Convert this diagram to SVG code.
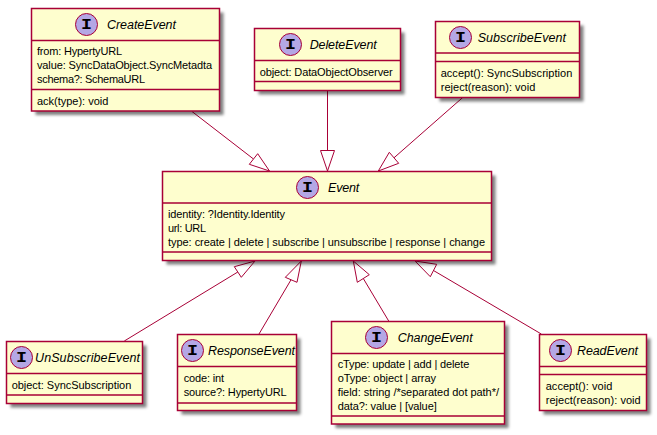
<svg xmlns="http://www.w3.org/2000/svg" width="657" height="435" viewBox="0 0 657 435">
<style>
text{font-family:"Liberation Sans",Arial,sans-serif;fill:#000}
.n{font-size:12.500px;font-style:italic}
.m{font-size:11px}
.b{fill:#FEFECE;stroke:#A80036;stroke-width:1.5}
.l{fill:none;stroke:#A80036;stroke-width:1.5}
.c{fill:#B4A7E5;stroke:#A80036;stroke-width:1}
.i{font-family:"Liberation Mono",monospace;font-size:14px;font-weight:bold;text-anchor:middle}
.s{fill:#000;opacity:.5;filter:url(#sh)}
#connectors line{stroke:#A80036;stroke-width:1}
#connectors polygon{fill:#fff;stroke:#A80036;stroke-width:1}
</style>
<defs><filter id="sh" x="-10%" y="-10%" width="120%" height="120%"><feGaussianBlur stdDeviation="1.5"/></filter></defs>
<g id="connectors">
<line x1="192" y1="111.500" x2="253.500" y2="159"/><polygon points="269.500,171 249.300,164.300 257.700,153.700"/>
<line x1="327.500" y1="90.500" x2="327.500" y2="150.500"/><polygon points="327.500,171 320.500,150.500 334.500,150.500"/>
<line x1="462.700" y1="97.500" x2="394" y2="157.800"/><polygon points="378.300,171 389.300,152.300 398.700,163.300"/>
<line x1="124.300" y1="341" x2="237.800" y2="272"/><polygon points="255,261 234.300,266.700 241.300,277.300"/>
<line x1="259" y1="334" x2="291" y2="279.800"/><polygon points="301.300,261 285.300,277.300 297,282.300"/>
<line x1="388.700" y1="321" x2="363.300" y2="278.500"/><polygon points="353.300,261 357.300,282.300 369.300,274.700"/>
<line x1="541.300" y1="334" x2="433.500" y2="270.500"/><polygon points="415,261 430.300,276.700 436.700,264.300"/>
</g>
<g id="CreateEvent">
<rect class="s" x="35.500" y="12.500" width="188" height="102.500"/>
<rect class="b" x="31.500" y="8.500" width="188" height="102.500"/>
<path class="l" d="M31.500 40.500H219.500M31.500 89.500H219.500"/>
<circle class="c" cx="86.500" cy="24.500" r="11"/><text class="i" x="86.500" y="28.500" textLength="11" lengthAdjust="spacingAndGlyphs">I</text>
<text class="n" x="107" y="29" textLength="69">CreateEvent</text>
<text class="m" x="37" y="55" textLength="85">from: HypertyURL</text>
<text class="m" x="37" y="69" textLength="175">value: SyncDataObject.SyncMetadta</text>
<text class="m" x="37" y="83" textLength="108">schema?: SchemaURL</text>
<text class="m" x="37" y="105" textLength="71.300">ack(type): void</text>
</g>
<g id="DeleteEvent">
<rect class="s" x="258.500" y="32.500" width="146" height="62"/>
<rect class="b" x="254.500" y="28.500" width="146" height="62"/>
<path class="l" d="M254.500 60.500H400.500M254.500 81.500H400.500"/>
<circle class="c" cx="290.500" cy="44.500" r="11"/><text class="i" x="290.500" y="48.500" textLength="11" lengthAdjust="spacingAndGlyphs">I</text>
<text class="n" x="309.700" y="49" textLength="67">DeleteEvent</text>
<text class="m" x="259.700" y="76" textLength="133">object: DataObjectObserver</text>
</g>
<g id="SubscribeEvent">
<rect class="s" x="439.500" y="25.500" width="144" height="76"/>
<rect class="b" x="435.500" y="21.500" width="144" height="76"/>
<path class="l" d="M435.500 53H579.500M435.500 61.500H579.500"/>
<circle class="c" cx="460.500" cy="37.500" r="11"/><text class="i" x="460.500" y="41.500" textLength="11" lengthAdjust="spacingAndGlyphs">I</text>
<text class="n" x="477.700" y="42" textLength="88.300">SubscribeEvent</text>
<text class="m" x="440.700" y="77" textLength="131.600">accept(): SyncSubscription</text>
<text class="m" x="440.700" y="91" textLength="94.600">reject(reason): void</text>
</g>
<g id="Event">
<rect class="s" x="166.500" y="175.500" width="329" height="89"/>
<rect class="b" x="162.500" y="171.500" width="329" height="89"/>
<path class="l" d="M162.500 203H491.500M162.500 252H491.500"/>
<circle class="c" cx="307.500" cy="187.500" r="11"/><text class="i" x="307.500" y="191.500" textLength="11" lengthAdjust="spacingAndGlyphs">I</text>
<text class="n" x="328" y="192" textLength="31.300">Event</text>
<text class="m" x="168" y="218" textLength="117">identity: ?Identity.Identity</text>
<text class="m" x="168" y="232" textLength="38">url: URL</text>
<text class="m" x="168" y="246" textLength="317">type: create | delete | subscribe | unsubscribe | response | change</text>
</g>
<g id="UnSubscribeEvent">
<rect class="s" x="10.500" y="345.500" width="136" height="62"/>
<rect class="b" x="6.500" y="341.500" width="136" height="62"/>
<path class="l" d="M6.500 373.500H142.500M6.500 395H142.500"/>
<circle class="c" cx="21.500" cy="357.500" r="11"/><text class="i" x="21.500" y="361.500" textLength="11" lengthAdjust="spacingAndGlyphs">I</text>
<text class="n" x="35" y="362" textLength="105">UnSubscribeEvent</text>
<text class="m" x="11.700" y="389" textLength="119.600">object: SyncSubscription</text>
</g>
<g id="ResponseEvent">
<rect class="s" x="181.500" y="338.500" width="119" height="76"/>
<rect class="b" x="177.500" y="334.500" width="119" height="76"/>
<path class="l" d="M177.500 366.500H296.500M177.500 403H296.500"/>
<circle class="c" cx="192.500" cy="350.500" r="11"/><text class="i" x="192.500" y="354.500" textLength="11" lengthAdjust="spacingAndGlyphs">I</text>
<text class="n" x="208" y="355" textLength="87">ResponseEvent</text>
<text class="m" x="183.700" y="382" textLength="40.300">code: int</text>
<text class="m" x="183.700" y="396" textLength="103">source?: HypertyURL</text>
</g>
<g id="ChangeEvent">
<rect class="s" x="335.500" y="325.500" width="173" height="102.500"/>
<rect class="b" x="331.500" y="321.500" width="173" height="102.500"/>
<path class="l" d="M331.500 353.500H504.500M331.500 416H504.500"/>
<circle class="c" cx="376.500" cy="337.500" r="11"/><text class="i" x="376.500" y="341.500" textLength="11" lengthAdjust="spacingAndGlyphs">I</text>
<text class="n" x="397.700" y="342" textLength="75">ChangeEvent</text>
<text class="m" x="337.700" y="368" textLength="131.600">cType: update | add | delete</text>
<text class="m" x="337.700" y="382" textLength="98.300">oType: object | array</text>
<text class="m" x="337.700" y="396" textLength="161.300">field: string /*separated dot path*/</text>
<text class="m" x="337.700" y="410" textLength="99">data?: value | [value]</text>
</g>
<g id="ReadEvent">
<rect class="s" x="543.500" y="338.500" width="107" height="76"/>
<rect class="b" x="539.500" y="334.500" width="107" height="76"/>
<path class="l" d="M539.500 366.500H646.500M539.500 374.500H646.500"/>
<circle class="c" cx="560.500" cy="350.500" r="11"/><text class="i" x="560.500" y="354.500" textLength="11" lengthAdjust="spacingAndGlyphs">I</text>
<text class="n" x="577" y="355" textLength="61">ReadEvent</text>
<text class="m" x="545.700" y="390" textLength="66.600">accept(): void</text>
<text class="m" x="545.700" y="404" textLength="95">reject(reason): void</text>
</g>
</svg>
